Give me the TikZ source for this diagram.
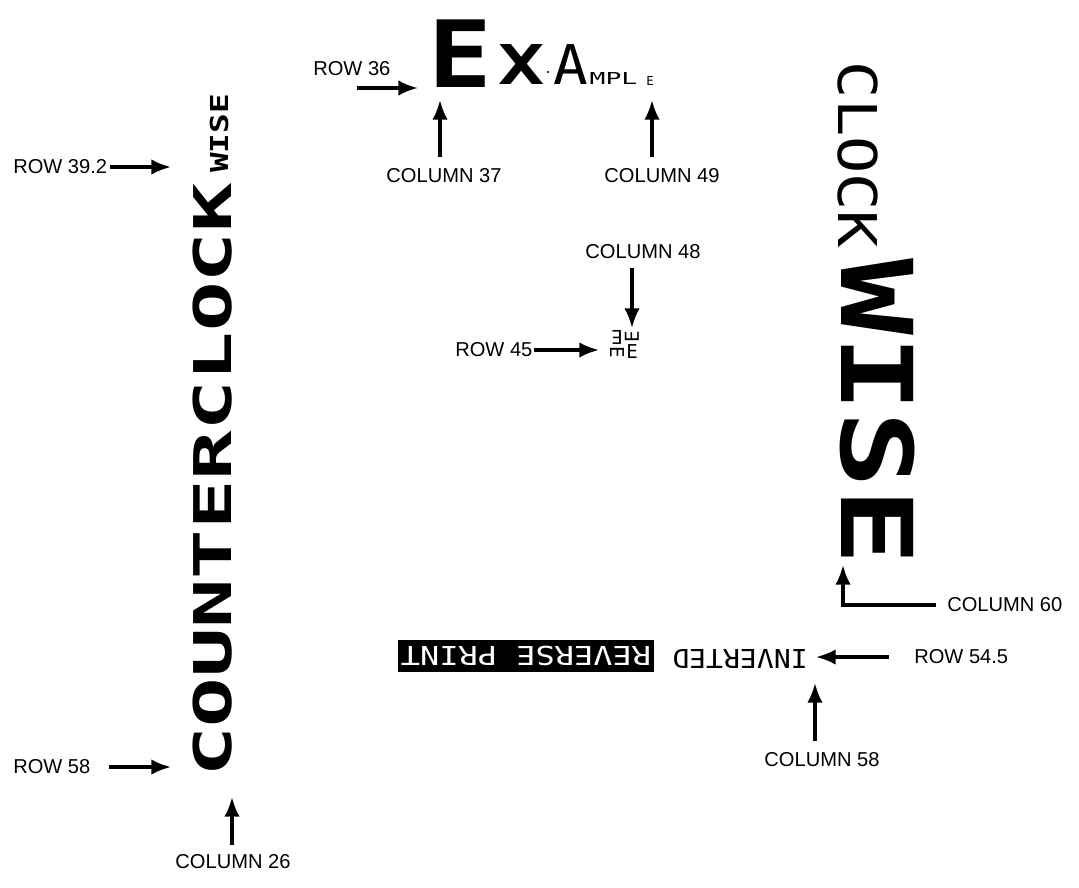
\documentclass[tikz,border=0pt]{standalone}
\usepackage{fontspec}
\setmainfont{Liberation Sans}
\newfontfamily\prn{DejaVu Sans Mono}
\usetikzlibrary{arrows.meta}

\newcommand{\prnsize}[1]{\prn\fontsize{#1}{#1}\selectfont}

\tikzset{
  lbl/.style={font=\fontsize{14.3}{16}\selectfont, inner sep=0pt},
  prt/.style={inner sep=0pt},
  ptr/.style={line width=2.2pt, -{Latex[length=14pt,width=11pt]}},
}

\begin{document}
\begin{tikzpicture}[x=0.025cm,y=-0.025cm]
\useasboundingbox (0,0) rectangle (1079,888);

% printed lines
\node[prt, rotate=90] (ccw) at (212.5,480) {\prnsize{37}\bfseries\scalebox{1.58}[1]{COUNTERCLOCK}};
\node[prt, rotate=90] (ccwise) at (219,133.5) {\prnsize{17.6}\bfseries\scalebox{1.32}[1]{WISE}};
\node[prt, rotate=-90] (clock) at (857.5,155) {\prnsize{38}\scalebox{1.16}[1]{CLOCK}};
\node[prt, rotate=-90] (cwise) at (878,412) {\prnsize{70.4}\bfseries\scalebox{1.29}[1]{WISE}};

\node[prt] (exE) at (460,53.5) {\prnsize{66}\bfseries\scalebox{1.14}[1]{E}};
\node[prt] (exX) at (521.5,65) {\prnsize{39}\bfseries\scalebox{1.4}[1]{X}};
\fill (548,72) circle (1.2);
\node[prt] (exA) at (570.5,65) {\prnsize{39}\scalebox{1.05}[1]{A}};
\node[prt] (exMPL) at (613.5,79) {\prnsize{11.7}\scalebox{1.6}[1]{MPL}};
\node[prt] (exe) at (650,80.5) {\prnsize{8.8}E};

\node[prt, rotate=180] (e1) at (617,337) {\prnsize{13.6}E};
\node[prt, rotate=90] (e2) at (632,337) {\prnsize{13.6}E};
\node[prt, rotate=-90] (e3) at (617,352) {\prnsize{13.6}E};
\node[prt] (e4) at (632,352) {\prnsize{13.6}E};

\node[fill=black, text=white, rotate=180, inner sep=0pt, minimum width=6.4cm, minimum height=0.8cm] (rev) at (526,656) {\prnsize{18.5}\scalebox{1.23}[1]{REVERSE PRINT}};
\node[prt, rotate=180] (inv) at (740,659) {\prnsize{18.5}\scalebox{1.08}[1]{INVERTED}};

% labels
\node[lbl, anchor=west] (r392) at (13,167) {ROW 39.2};
\node[lbl, anchor=west] (r36) at (313,69) {ROW 36};
\node[lbl] (c37) at (444,176) {COLUMN 37};
\node[lbl] (c49) at (662,176) {COLUMN 49};
\node[lbl] (c48) at (643,252) {COLUMN 48};
\node[lbl, anchor=west] (r45) at (455,350) {ROW 45};
\node[lbl, anchor=west] (r58) at (13,767) {ROW 58};
\node[lbl] (c26) at (233,862) {COLUMN 26};
\node[lbl] (c58) at (822,760) {COLUMN 58};
\node[lbl, anchor=west] (r545) at (914,657) {ROW 54.5};
\node[lbl, anchor=west] (c60) at (947,605) {COLUMN 60};

% arrow ends
\coordinate (t392) at (171,167);
\coordinate (h36) at (357,88);
\coordinate (t36) at (418,88);
\coordinate (t37) at (440,100);
\coordinate (t49) at (652,100);
\coordinate (t48) at (632,328);
\coordinate (t45) at (599,350);
\coordinate (t58) at (171,767);
\coordinate (t26) at (232,797);
\coordinate (t58c) at (815,683);
\coordinate (t545) at (816,657);
\coordinate (t60) at (843,565);

\draw[ptr, shorten <=2pt] (r392.east) -- (t392);
\draw[ptr] (h36) -- (t36);
\draw[ptr, shorten <=8pt] (c37.north -| t37) -- (t37);
\draw[ptr, shorten <=8pt] (c49.north -| t49) -- (t49);
\draw[ptr, shorten <=6pt] (c48.south -| t48) -- (t48);
\draw[ptr, shorten <=1pt] (r45.east) -- (r45.east -| t45);
\draw[ptr, shorten <=13pt] (r58.east) -- (r58.east -| t58);
\draw[ptr, shorten <=7pt] (c26.north -| t26) -- (t26);
\draw[ptr, shorten <=8pt] (c58.north -| t58c) -- (t58c);
\draw[ptr, shorten <=18pt] (r545.west) -- (r545.west -| t545);
\draw[ptr, shorten <=8pt] (c60.west) -| (t60);

\end{tikzpicture}
\end{document}
